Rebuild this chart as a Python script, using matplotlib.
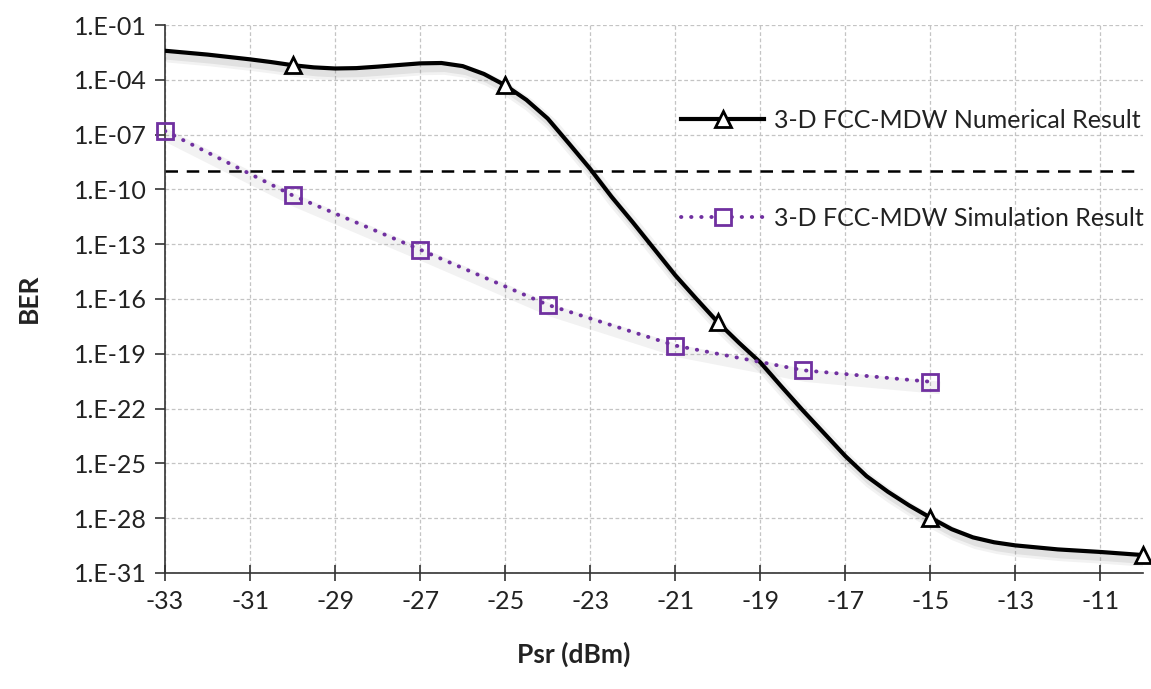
import matplotlib
matplotlib.use('Agg')
import math
import matplotlib.pyplot as plt
import matplotlib.patheffects as pe
from matplotlib.ticker import FixedLocator, FuncFormatter, NullLocator

plt.rcParams['font.family'] = ['Lato', 'DejaVu Sans']

# numerical result: smooth curve (x in dBm, log10 BER)
num_x = [-33, -32, -31, -30.5, -30, -29.5, -29, -28.5, -28, -27.5, -27, -26.5, -26,
         -25.5, -25, -24.5, -24, -23.5, -23, -22.5, -22, -21.5, -21, -20.5, -20,
         -19.5, -19, -18.5, -18, -17.5, -17, -16.5, -16, -15.5, -15, -14.5, -14,
         -13.5, -13, -12, -11, -10]
num_log = [-2.41, -2.62, -2.88, -3.03, -3.2, -3.32, -3.38, -3.36, -3.28, -3.19, -3.1,
           -3.08, -3.25, -3.68, -4.3, -5.1, -6.12, -7.49, -8.88, -10.4, -11.8, -13.25,
           -14.7, -16.0, -17.27, -18.4, -19.47, -20.8, -22.1, -23.35, -24.6, -25.7,
           -26.55, -27.3, -27.97, -28.6, -29.05, -29.32, -29.49, -29.71, -29.85, -30.02]
num_mark_x = [-30, -25, -20, -15, -10]

# simulation result
sim_x = [-33, -30, -27, -24, -21, -18, -15]
sim_log = [-6.8, -10.33, -13.3, -16.32, -18.55, -19.9, -20.53]

threshold = 1e-9
x_ticks = list(range(-33, -10, 2))
y_exps = list(range(-31, 0, 3))

labels = ["3-D FCC-MDW Numerical Result", "3-D FCC-MDW Simulation Result"]
purple = "#7030A0"

num_y = [10.0 ** v for v in num_log]
mark_y = [10.0 ** num_log[num_x.index(x)] for x in num_mark_x]
sim_y = [10.0 ** v for v in sim_log]

fig = plt.figure(figsize=(11.51, 6.89), dpi=100)
ax = fig.add_axes([0.1434, 0.1684, 0.8496, 0.7953])

shadow = [pe.SimpleLineShadow(offset=(2.5, -4), shadow_color='gray', alpha=0.10, linewidth=9),
          pe.SimpleLineShadow(offset=(2.5, -4), shadow_color='gray', alpha=0.15, linewidth=5)]

ax.axhline(threshold, color='black', linewidth=1.8, dashes=(5, 3.5), zorder=2)

# soft drop shadows (Excel style)
ax.plot(num_x, num_y, color='black', linewidth=3, zorder=2.5, path_effects=shadow)
ax.plot(sim_x, sim_y, color=purple, linewidth=3, zorder=2.5, path_effects=shadow[:1])

ax.plot(num_x, num_y, color='black', linewidth=3, solid_capstyle='round',
        solid_joinstyle='round', zorder=3)
ax.plot(num_mark_x, mark_y, linestyle='None', marker='^', markersize=12,
        markerfacecolor='white', markeredgecolor='black', markeredgewidth=2,
        zorder=4, clip_on=False)

ax.plot(sim_x, sim_y, color=purple, linewidth=2.8, dashes=(0.1, 2.5),
        dash_capstyle='round', zorder=3)
ax.plot(sim_x, sim_y, linestyle='None', marker='s', markersize=12,
        markerfacecolor='none', markeredgecolor=purple, markeredgewidth=2,
        zorder=4, clip_on=False)

ax.set_yscale('log')
ax.set_ylim(1e-31, 1e-1)
ax.set_xlim(-33, -10)
ax.yaxis.set_major_locator(FixedLocator([10.0 ** e for e in y_exps]))
ax.yaxis.set_minor_locator(NullLocator())
ax.yaxis.set_major_formatter(FuncFormatter(lambda v, pos: "1.E-%02d" % round(-math.log10(v))))
ax.set_xticks(x_ticks)
ax.set_xticklabels([str(t) for t in x_ticks])

ax.grid(True, color='#c4c4c4', linestyle=(0, (3, 2)), linewidth=0.9)
ax.set_axisbelow(True)
for s in ['top', 'right']:
    ax.spines[s].set_visible(False)
for s in ['left', 'bottom']:
    ax.spines[s].set_color('#333333')
    ax.spines[s].set_linewidth(1.2)

ax.tick_params(axis='y', direction='out', length=7, width=1.2, color='#333333',
               labelsize=18, labelcolor='#222222', pad=6)
ax.tick_params(axis='x', direction='inout', length=12, width=1.2, color='#333333',
               labelsize=18, labelcolor='#222222', pad=6)

h1 = plt.Line2D([], [], color='black', linewidth=3, marker='^', markersize=12,
                markerfacecolor='white', markeredgecolor='black', markeredgewidth=2)
h2 = plt.Line2D([], [], color=purple, linewidth=2.8, dashes=(0.1, 2.5),
                dash_capstyle='round', marker='s', markersize=12,
                markerfacecolor='white', markeredgecolor=purple, markeredgewidth=2)
ax.legend([h1, h2], labels, loc='center left', bbox_to_anchor=(0.505, 0.737),
          frameon=False, fontsize=18, handlelength=3.3, handletextpad=0.4,
          labelspacing=3.0, labelcolor='#222222')

fig.text(0.025, 0.567, "BER", rotation=90, ha='center', va='center',
         fontsize=19, fontweight='bold', color='#222222')
fig.text(0.498, 0.05, "Psr (dBm)", ha='center', va='center',
         fontsize=19, fontweight='bold', color='#222222')

fig.savefig('out.png', dpi=100)
